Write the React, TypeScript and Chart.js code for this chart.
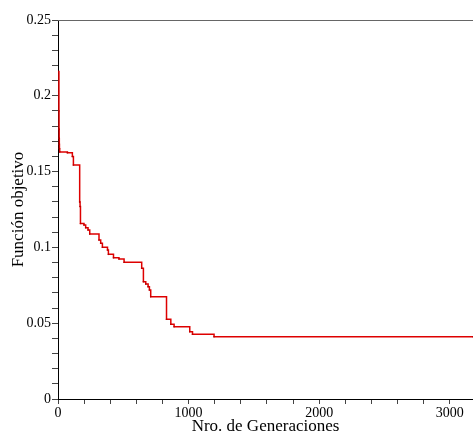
import React, { useEffect, useRef } from "react";
import { Chart, registerables } from "chart.js";

Chart.register(...registerables);

const generations = [0, 7, 8, 9, 10, 11, 13, 72, 110, 118, 166, 169, 172, 199, 212, 230, 243, 314, 327, 340, 379, 386, 425, 467, 506, 641, 654, 672, 690, 700, 710, 831, 864, 889, 1009, 1030, 1195, 3178];
const objective = [0.216, 0.19, 0.178, 0.172, 0.168, 0.165, 0.163, 0.1625, 0.16, 0.1544, 0.13, 0.127, 0.1158, 0.1148, 0.113, 0.1115, 0.1088, 0.1049, 0.1027, 0.1001, 0.0983, 0.0954, 0.0932, 0.0923, 0.0902, 0.0862, 0.0774, 0.0759, 0.0741, 0.0719, 0.0675, 0.0526, 0.0493, 0.0477, 0.0444, 0.0427, 0.0411, 0.0411];

const xTicks = [0, 200, 400, 600, 800, 1000, 1200, 1400, 1600, 1800, 2000, 2200, 2400, 2600, 2800, 3000];
const xLabels = ["0", "", "", "", "", "1000", "", "", "", "", "2000", "", "", "", "", "3000"];
const yTicks = [0, 0.01, 0.02, 0.03, 0.04, 0.05, 0.06, 0.07, 0.08, 0.09, 0.1, 0.11, 0.12, 0.13, 0.14, 0.15, 0.16, 0.17, 0.18, 0.19, 0.2, 0.21, 0.22, 0.23, 0.24, 0.25];
const yLabels = ["0", "", "", "", "", "0.05", "", "", "", "", "0.1", "", "", "", "", "0.15", "", "", "", "", "0.2", "", "", "", "", "0.25"];

const FONT = "'Liberation Serif', 'Times New Roman', serif";

const topLine = {
  id: "topLine",
  afterDraw(chart: any) {
    const { ctx, chartArea } = chart;
    ctx.save();
    ctx.strokeStyle = "#666";
    ctx.lineWidth = 1;
    ctx.beginPath();
    ctx.moveTo(chartArea.left, chartArea.top + 0.5);
    ctx.lineTo(chartArea.right, chartArea.top + 0.5);
    ctx.stroke();
    ctx.restore();
  },
};

export default function App() {
  const ref = useRef<HTMLCanvasElement>(null);
  useEffect(() => {
    document.body.style.margin = "0";
    const chart = new Chart(ref.current!, {
      type: "line",
      data: {
        datasets: [
          {
            data: generations.map((g, i) => ({ x: g, y: objective[i] })),
            borderColor: "rgb(222,0,0)",
            backgroundColor: "rgb(180,0,0)",
            borderWidth: 1.5,
            stepped: true,
            pointRadius: 0.8,
            pointBorderWidth: 0,
            pointHoverRadius: 0,
            fill: false,
          },
        ],
      },
      options: {
        animation: false,
        responsive: false,
        maintainAspectRatio: false,
        layout: { autoPadding: false, padding: { top: 20, right: 0, left: 0, bottom: 0 } },
        plugins: { legend: { display: false }, tooltip: { enabled: false } },
        scales: {
          x: {
            type: "linear",
            min: 0,
            max: 3178,
            afterBuildTicks: (s: any) => {
              s.ticks = xTicks.map((v) => ({ value: v }));
            },
            afterFit: (s: any) => {
              s.height = 38;
              s.paddingLeft = 0;
              s.paddingRight = 0;
            },
            ticks: {
              autoSkip: false,
              maxRotation: 0,
              padding: 1,
              color: "#000",
              font: { family: FONT, size: 14 },
              callback: (v: any) => {
                const i = xTicks.indexOf(Number(v));
                return i >= 0 ? xLabels[i] : "";
              },
            },
            grid: { drawOnChartArea: false, drawTicks: true, tickLength: 5, tickColor: "#444" },
            border: { display: true, color: "#000", width: 1 },
            title: {
              display: true,
              text: "Nro. de Generaciones",
              color: "#000",
              font: { family: FONT, size: 17 },
              padding: { top: 0, bottom: 0 },
            },
          },
          y: {
            type: "linear",
            min: 0,
            max: 0.25,
            afterBuildTicks: (s: any) => {
              s.ticks = yTicks.map((v) => ({ value: v }));
            },
            afterFit: (s: any) => {
              s.width = 58;
              s.paddingTop = 0;
              s.paddingBottom = 0;
            },
            ticks: {
              autoSkip: false,
              padding: 1,
              color: "#000",
              font: { family: FONT, size: 14 },
              callback: (v: any) => {
                const n = Number(v);
                const i = yTicks.findIndex((t) => Math.abs(t - n) < 1e-9);
                return i >= 0 ? yLabels[i] : "";
              },
            },
            grid: { drawOnChartArea: false, drawTicks: true, tickLength: 6, tickColor: "#444" },
            border: { display: true, color: "#000", width: 1 },
            title: {
              display: true,
              text: "Función objetivo",
              color: "#000",
              font: { family: FONT, size: 17 },
              padding: { top: 8, bottom: 0 },
            },
          },
        },
      },
      plugins: [topLine],
    });
    return () => chart.destroy();
  }, []);
  return (
    <div style={{ position: "absolute", left: 0, top: 0, width: 473, height: 437 }}>
      <canvas ref={ref} width={473} height={437} style={{ width: 473, height: 437 }} />
    </div>
  );
}
